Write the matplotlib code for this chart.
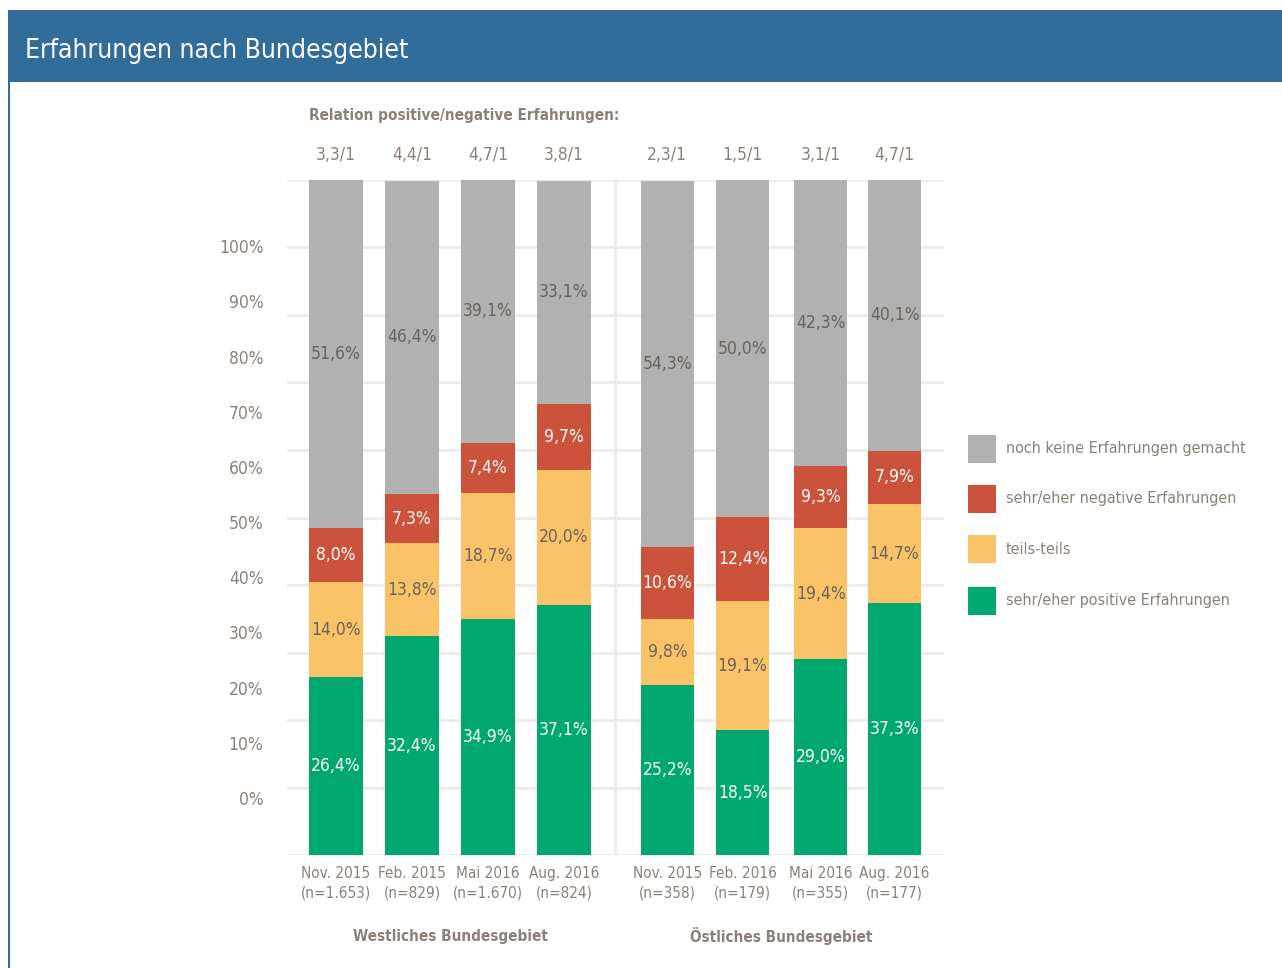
import matplotlib.pyplot as plt
from matplotlib.patches import Rectangle
import numpy as np

plt.rcParams['font.family'] = ['Liberation Sans Narrow', 'DejaVu Sans']
plt.rcParams['font.stretch'] = 'condensed'

# ===== Daten =====
zeitpunkte = ['Nov. 2015\n(n=1.653)', 'Feb. 2015\n(n=829)', 'Mai 2016\n(n=1.670)', 'Aug. 2016\n(n=824)',
              'Nov. 2015\n(n=358)', 'Feb. 2016\n(n=179)', 'Mai 2016\n(n=355)', 'Aug. 2016\n(n=177)']
relation = ['3,3/1', '4,4/1', '4,7/1', '3,8/1', '2,3/1', '1,5/1', '3,1/1', '4,7/1']
positiv = [26.4, 32.4, 34.9, 37.1, 25.2, 18.5, 29.0, 37.3]
teils = [14.0, 13.8, 18.7, 20.0, 9.8, 19.1, 19.4, 14.7]
negativ = [8.0, 7.3, 7.4, 9.7, 10.6, 12.4, 9.3, 7.9]
keine = [51.6, 46.4, 39.1, 33.1, 54.3, 50.0, 42.3, 40.1]
gruppen = ['Westliches Bundesgebiet', 'Östliches Bundesgebiet']
legende = ['noch keine Erfahrungen gemacht', 'sehr/eher negative Erfahrungen',
           'teils-teils', 'sehr/eher positive Erfahrungen']
ytick_labels = ['0%', '10%', '20%', '30%', '40%', '50%', '60%', '70%', '80%', '90%', '100%']

# ===== Stil =====
c_keine = '#b1b1b1'
c_neg = '#cc523c'
c_teils = '#fbc367'
c_pos = '#00a76f'
c_text = '#8a8079'
c_dark = '#6b635c'
c_grid = '#ebebeb'
c_blue = '#316c9b'

W, H = 1282, 968
fig = plt.figure(figsize=(W / 100, H / 100), dpi=100)

# Kopfzeile
fig.patches.append(Rectangle((8 / W, 1 - 82 / H), 1 - 8 / W, 72 / H, transform=fig.transFigure,
                             facecolor=c_blue, edgecolor='none'))
fig.patches.append(Rectangle((8 / W, 0), 2 / W, 1 - 82 / H, transform=fig.transFigure,
                             facecolor=c_blue, edgecolor='none'))
fig.text(25 / W, 1 - 51 / H, 'Erfahrungen nach Bundesgebiet', color='white', fontsize=19,
         va='center', ha='left')

ax = fig.add_axes([287 / W, 1 - 855 / H, (944 - 287) / W, (855 - 180) / H])
x = np.array([0, 1, 2, 3, 4.36, 5.35, 6.38, 7.35])
breite = 0.70
ax.set_xlim(-0.645, 8.0)
ax.set_ylim(0, 100)

for g in range(0, 101, 10):
    ax.axhline(g, color=c_grid, lw=2, zorder=0)
ax.axvline(3.67, color=c_grid, lw=2, zorder=0)

segmente = [(positiv, c_pos, 'white'), (teils, c_teils, c_dark),
            (negativ, c_neg, 'white'), (keine, c_keine, c_dark)]
unten = np.zeros(len(x))
for werte, farbe, tfarbe in segmente:
    werte = np.array(werte)
    ax.bar(x, werte, bottom=unten, width=breite, color=farbe, zorder=2)
    for xi, b, v in zip(x, unten, werte):
        ax.text(xi, b + v / 2, f'{v:.1f}%'.replace('.', ','), ha='center', va='center',
                color=tfarbe, fontsize=12.5, zorder=3)
    unten += werte

for s in ax.spines.values():
    s.set_visible(False)
ax.set_xticks(x)
ax.set_xticklabels(zeitpunkte, color=c_text, fontsize=11, linespacing=1.35)
ax.tick_params(axis='x', length=0, pad=8)
# y-Beschriftung sitzt im Original versetzt zu den Gitterlinien
ax.set_yticks(np.linspace(8.44, 90.2, 11))
ax.set_yticklabels(ytick_labels, color=c_text, fontsize=12.5)
ax.tick_params(axis='y', length=0, pad=17)

# Relationen oberhalb
for xi, r in zip(x, relation):
    ax.text(xi, 103.7, r, ha='center', va='center', color=c_text, fontsize=12.5)
ax.text(-0.36, 109.6, 'Relation positive/negative Erfahrungen:', ha='left', va='center',
        color=c_text, fontsize=11, fontweight='bold')

# Gruppenbeschriftung
ax.text(1.5, -12, gruppen[0], ha='center', va='center', color=c_text, fontsize=11, fontweight='bold')
ax.text(5.86, -12, gruppen[1], ha='center', va='center', color=c_text, fontsize=11, fontweight='bold')

# Legende
farben = [c_keine, c_neg, c_teils, c_pos]
for i, (lab, f) in enumerate(zip(legende, farben)):
    yc = [449, 499, 549, 601][i]
    fig.patches.append(Rectangle((968 / W, 1 - (yc + 14) / H), 28 / W, 28 / H,
                                 transform=fig.transFigure, facecolor=f, edgecolor='none'))
    fig.text(1006 / W, 1 - yc / H, lab, color=c_text, fontsize=11.5, va='center', ha='left')

plt.savefig('out.png', dpi=100)
